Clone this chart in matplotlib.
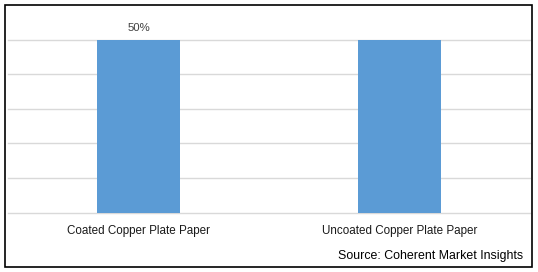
import matplotlib
matplotlib.use("Agg")
import matplotlib.pyplot as plt
from matplotlib.patches import Rectangle

categories = ["Coated Copper Plate Paper", "Uncoated Copper Plate Paper"]
shares = [50, 50]
shown_labels = ["50%", ""]
source = "Source: Coherent Market Insights"

plt.rcParams['font.family'] = ['Liberation Sans', 'DejaVu Sans']

W, H = 538, 272
fig = plt.figure(figsize=(W / 100, H / 100), dpi=100)

# outer frame
fig.patches.append(Rectangle((5 / W, 5 / H), 527 / W, 262 / H, transform=fig.transFigure,
                             fill=False, edgecolor='black', linewidth=1.2))

ax = fig.add_axes([8 / W, 59.3 / H, 522 / W, 207.7 / H])
x = range(len(categories))
ax.bar(x, shares, width=0.315, color='#5B9BD5', zorder=3)
ax.set_xlim(-0.5, len(categories) - 0.5)
ax.set_ylim(0, 60)
ax.set_yticks([0, 10, 20, 30, 40, 50])
ax.yaxis.grid(True, color='#D9D9D9', linewidth=1)
for gl in ax.get_ygridlines():
    gl.set_clip_on(False)
ax.set_axisbelow(True)
ax.tick_params(left=False, bottom=False, labelleft=False, labelbottom=False)
for s in ax.spines.values():
    s.set_visible(False)

for i, (v, lab) in enumerate(zip(shares, shown_labels)):
    if lab:
        ax.text(i, v + 3.5, lab, ha='center', va='center', fontsize=8.2, color='#404040')
    ax.text(i, -5.2, categories[i], ha='center', va='center', fontsize=8.4, color='#1a1a1a')

fig.text(523 / W, 1 - 256 / H, source, ha='right', va='center', fontsize=8.9, color='black')

fig.savefig("out.png", dpi=100)
